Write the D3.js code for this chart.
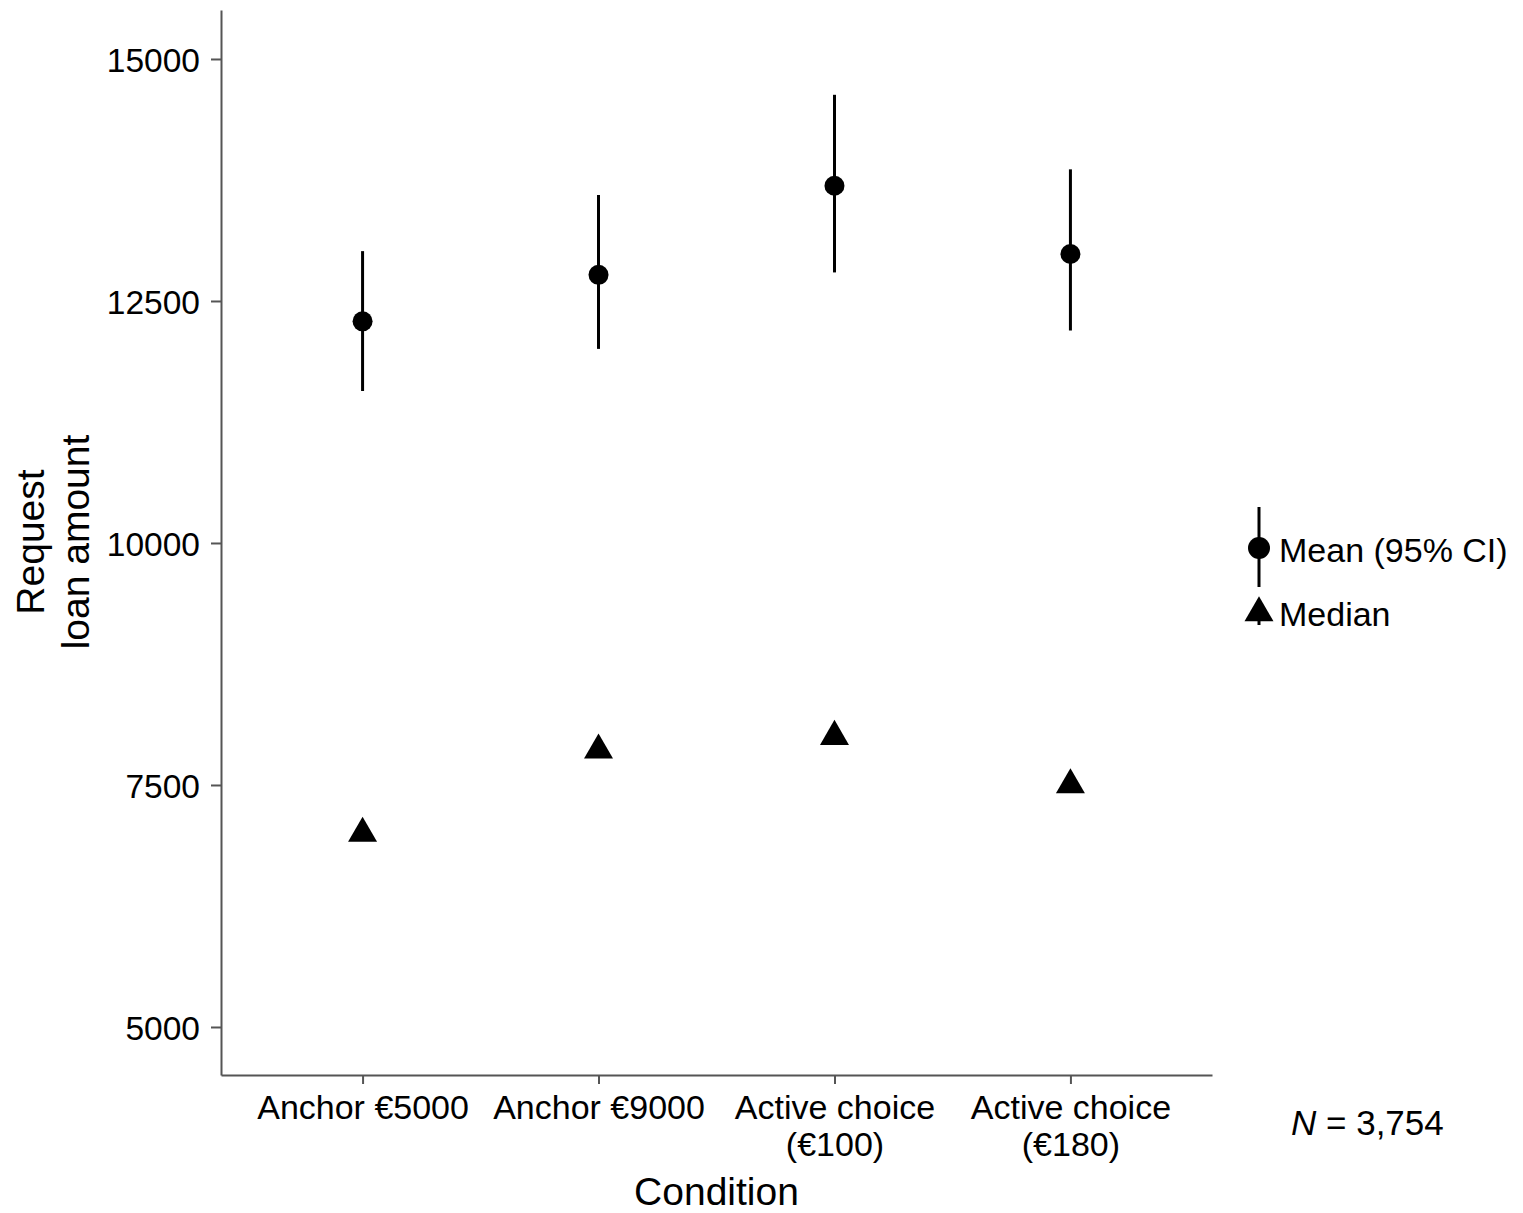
<!DOCTYPE html>
<html>
<head>
<meta charset="utf-8">
<script src="https://cdn.jsdelivr.net/npm/d3@7"></script>
<style>
  body { margin: 0; background: #fff; }
  text { font-family: "Liberation Sans", Arial, sans-serif; fill: #000; }
</style>
</head>
<body>
<script>
// data
const conditions = ["Anchor €5000", "Anchor €9000", "Active choice\n(€100)", "Active choice\n(€180)"];
const means = [12290, 12770, 13690, 12985];
const ciLow = [11570, 12005, 12795, 12195];
const ciHigh = [13015, 13595, 14630, 13860];
const medians = [7000, 7860, 8000, 7500];
const yTicks = [5000, 7500, 10000, 12500, 15000];

const W = 1523, H = 1213;
const margin = {top: 10, right: 311, bottom: 138, left: 221};
const axisColor = "#555";

const svg = d3.select("body").append("svg")
    .attr("width", W)
    .attr("height", H);

// scales
let x = d3.scalePoint()
    .domain(conditions)
    .range([margin.left, W - margin.right])
    .padding(0.6);

let y = d3.scaleLinear()
    .domain([4504, 15506])
    .range([H - margin.bottom, margin.top]);

// y axis
const gy = svg.append("g")
    .attr("transform", `translate(${margin.left},0)`)
    .call(d3.axisLeft(y).tickValues(yTicks).tickSize(10).tickSizeOuter(0).tickPadding(11).tickFormat(d3.format("d")));
gy.select(".domain").attr("stroke", axisColor).attr("stroke-width", 2);
gy.selectAll(".tick line").attr("stroke", axisColor).attr("stroke-width", 2);
gy.selectAll(".tick text")
    .style("font-size", "33.5px")
    .attr("dy", "0.36em");

// x axis
const gx = svg.append("g")
    .attr("transform", `translate(0,${H - margin.bottom})`)
    .call(d3.axisBottom(x).tickSize(9).tickSizeOuter(0).tickPadding(0));
gx.select(".domain").attr("stroke", axisColor).attr("stroke-width", 2);
gx.selectAll(".tick line").attr("stroke", axisColor).attr("stroke-width", 2);
gx.selectAll(".tick text")
    .style("font-size", "34px")
    .attr("y", 0)
    .attr("dy", null)
    .text(null)
    .each(function (d) {
        const lines = d.split("\n");
        const t = d3.select(this);
        lines.forEach((ln, i) => {
            t.append("tspan")
                .attr("x", 0)
                .attr("y", 44 + i * 37)
                .text(ln);
        });
    });

// axis titles
svg.append("text")
    .attr("x", (margin.left + W - margin.right) / 2)
    .attr("y", 1205)
    .attr("text-anchor", "middle")
    .style("font-size", "39px")
    .text("Condition");

const yTitle = svg.append("text")
    .attr("transform", "translate(0,542) rotate(-90)")
    .attr("text-anchor", "middle")
    .style("font-size", "39px");
yTitle.append("tspan").attr("x", 0).attr("y", 44).text("Request");
yTitle.append("tspan").attr("x", 0).attr("y", 89).text("loan amount");

// error bars (95% CI)
svg.append("g")
    .selectAll("line")
    .data(conditions)
    .join("line")
    .attr("x1", d => x(d))
    .attr("x2", d => x(d))
    .attr("y1", (d, i) => y(ciLow[i]))
    .attr("y2", (d, i) => y(ciHigh[i]))
    .attr("stroke", "#000")
    .attr("stroke-width", 3);

// means
svg.append("g")
    .selectAll("circle")
    .data(conditions)
    .join("circle")
    .attr("cx", d => x(d))
    .attr("cy", (d, i) => y(means[i]))
    .attr("r", 10)
    .attr("fill", "#000");

// medians
const tri = d3.symbol().type(d3.symbolTriangle).size(364);
svg.append("g")
    .selectAll("path")
    .data(conditions)
    .join("path")
    .attr("d", tri)
    .attr("transform", (d, i) => `translate(${x(d)},${y(medians[i])})`)
    .attr("fill", "#000");

// legend
const lg = svg.append("g");
lg.append("line")
    .attr("x1", 1259).attr("x2", 1259)
    .attr("y1", 507).attr("y2", 587)
    .attr("stroke", "#000").attr("stroke-width", 3);
lg.append("circle")
    .attr("cx", 1259).attr("cy", 548).attr("r", 11)
    .attr("fill", "#000");
lg.append("line")
    .attr("x1", 1259).attr("x2", 1259)
    .attr("y1", 612).attr("y2", 625)
    .attr("stroke", "#000").attr("stroke-width", 3);
lg.append("path")
    .attr("d", tri)
    .attr("transform", "translate(1259,613)")
    .attr("fill", "#000");
lg.append("text")
    .attr("x", 1279).attr("y", 562)
    .style("font-size", "34px")
    .text("Mean (95% CI)");
lg.append("text")
    .attr("x", 1279).attr("y", 626)
    .style("font-size", "34px")
    .text("Median");

// sample size note
const note = svg.append("text")
    .attr("x", 1291).attr("y", 1135)
    .style("font-size", "35px");
note.append("tspan").style("font-style", "italic").text("N");
note.append("tspan").text(" = 3,754");
</script>
</body>
</html>
